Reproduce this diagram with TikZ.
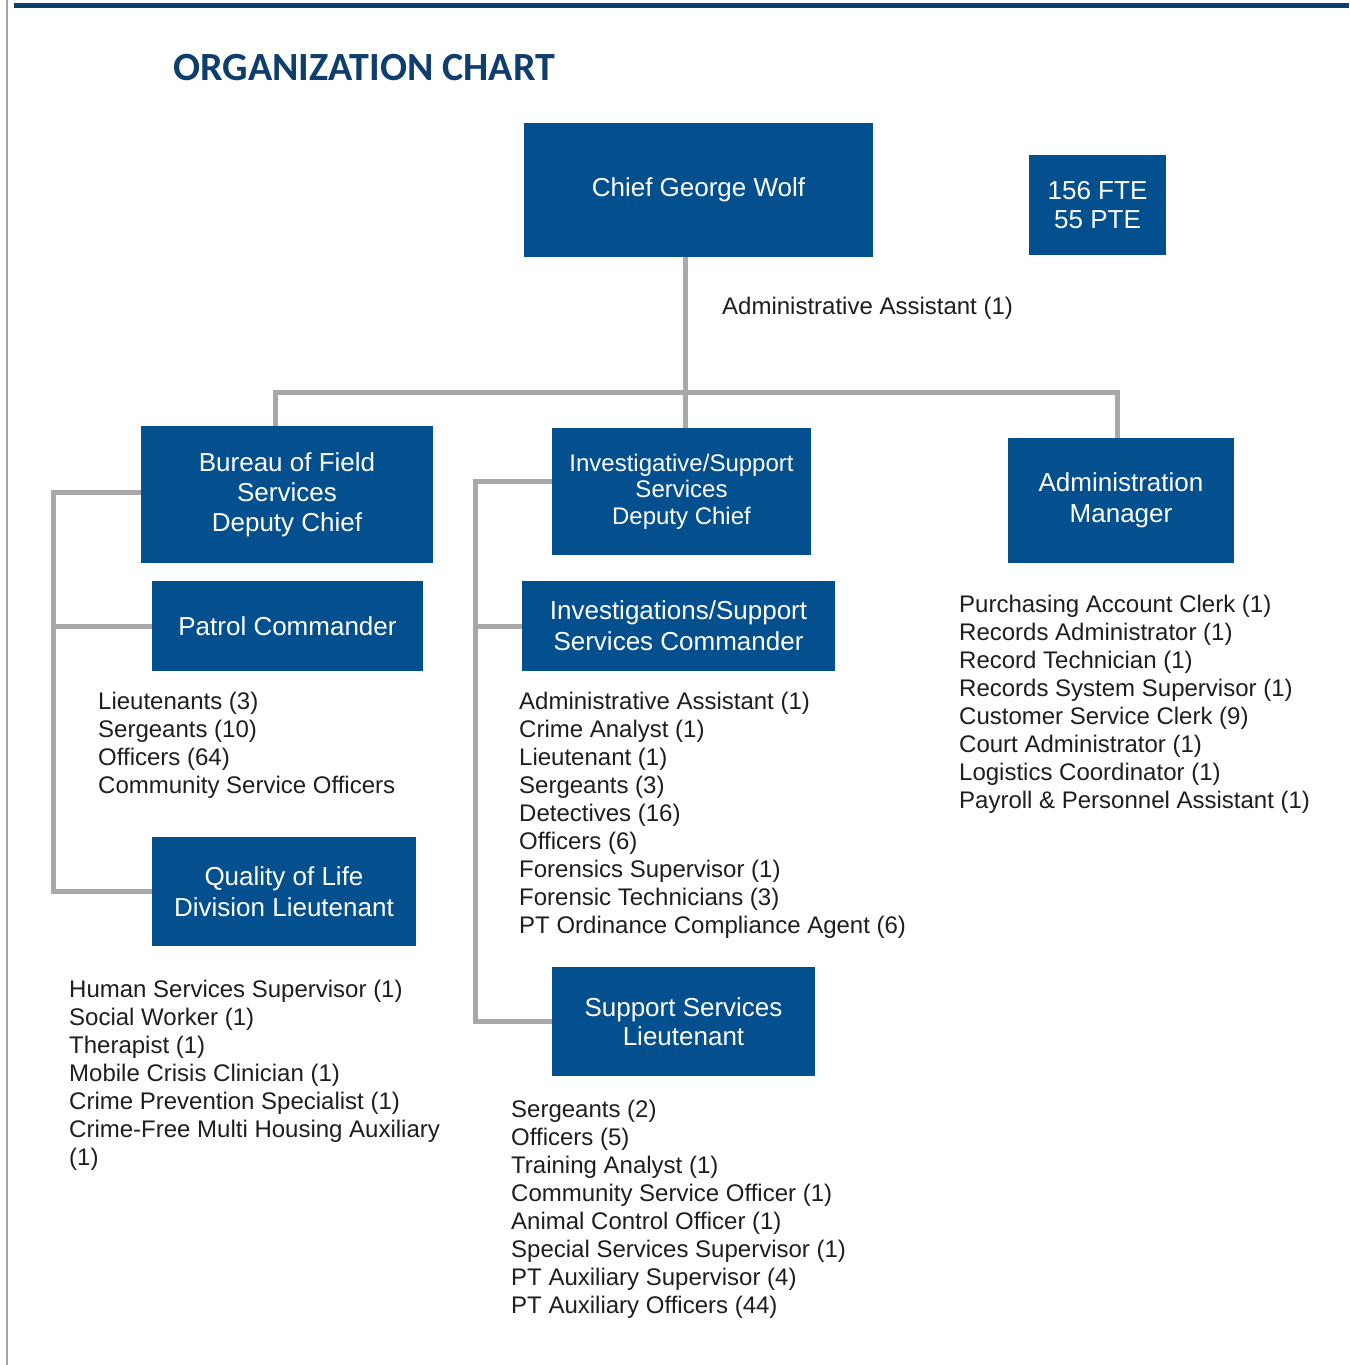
\documentclass[tikz,border=0pt]{standalone}
\usepackage{fontspec}
\setmainfont{Liberation Sans}
\newfontfamily\titlefont{Carlito}
\usepackage{tikz}

\definecolor{boxblue}{HTML}{04508F}
\definecolor{navy}{HTML}{0E3E6E}
\definecolor{linegray}{HTML}{A8A8A8}
\definecolor{inkgray}{HTML}{1E1E1E}

\begin{document}
\begin{tikzpicture}[x=1pt,y=-1pt,
  main node/.style={rectangle,fill=boxblue,text=white,inner sep=0pt,align=center,
    font=\fontsize{26}{30}\selectfont},
  list node/.style={anchor=north west,inner sep=0pt,align=left,text=inkgray,
    font=\fontsize{24}{28}\selectfont},
  conn/.style={draw=linegray,line width=5pt}]

  \useasboundingbox (0,0) rectangle (1349,1365);
  \fill[white] (0,0) rectangle (1349,1365);
  \draw[gray!70,line width=1.2pt] (7,0) -- (7,1365);
  \fill[navy] (14,3) rectangle (1349,8);

  \node[anchor=west,text=navy,font=\titlefont\bfseries\fontsize{40}{44}\selectfont] (title) at (170,68) {ORGANIZATION CHART};

  % boxes
  \node[main node,minimum width=349pt,minimum height=134pt] (chief) at (698.5,190) {Chief George Wolf};
  \node[main node,minimum width=137pt,minimum height=100pt,font=\fontsize{26}{29}\selectfont] (fte) at (1097.5,205) {156 FTE\\55 PTE};
  \node[main node,minimum width=292pt,minimum height=137pt] (bfs) at (287,494.5) {Bureau of Field\\Services\\Deputy Chief};
  \node[main node,minimum width=259pt,minimum height=127pt,font=\fontsize{24}{26.5}\selectfont] (isd) at (681.5,491.5) {Investigative/Support\\Services\\Deputy Chief};
  \node[main node,minimum width=226pt,minimum height=125pt,font=\fontsize{26}{31}\selectfont] (adm) at (1121,500.5) {Administration\\Manager};
  \node[main node,minimum width=271pt,minimum height=90pt] (pc) at (287.5,626) {Patrol Commander};
  \node[main node,minimum width=313pt,minimum height=90pt,font=\fontsize{26}{31}\selectfont] (isc) at (678.5,626) {Investigations/Support\\Services Commander};
  \node[main node,minimum width=264pt,minimum height=109pt,font=\fontsize{26}{31}\selectfont] (qol) at (284,891.5) {Quality of Life\\Division Lieutenant};
  \node[main node,minimum width=263pt,minimum height=109pt,font=\fontsize{26}{29}\selectfont] (ssl) at (683.5,1021.5) {Support Services\\Lieutenant};

  % staff lists
  \node[list node] (aa) at (722,297) {Administrative Assistant (1)};
  \node[list node] (pclist) at (98,692) {Lieutenants (3)\\Sergeants (10)\\Officers (64)\\Community Service Officers};
  \node[list node] (isclist) at (519,692) {Administrative Assistant (1)\\Crime Analyst (1)\\Lieutenant (1)\\Sergeants (3)\\Detectives (16)\\Officers (6)\\Forensics Supervisor (1)\\Forensic Technicians (3)\\PT Ordinance Compliance Agent (6)};
  \node[list node] (admlist) at (959,595) {Purchasing Account Clerk (1)\\Records Administrator (1)\\Record Technician (1)\\Records System Supervisor (1)\\Customer Service Clerk (9)\\Court Administrator (1)\\Logistics Coordinator (1)\\Payroll \& Personnel Assistant (1)};
  \node[list node] (qollist) at (69,980) {Human Services Supervisor (1)\\Social Worker (1)\\Therapist (1)\\Mobile Crisis Clinician (1)\\Crime Prevention Specialist (1)\\Crime-Free Multi Housing Auxiliary\\(1)};
  \node[list node] (ssllist) at (511,1100) {Sergeants (2)\\Officers (5)\\Training Analyst (1)\\Community Service Officer (1)\\Animal Control Officer (1)\\Special Services Supervisor (1)\\PT Auxiliary Supervisor (4)\\PT Auxiliary Officers (44)};

  % connectors
  \coordinate (hub) at (685,392);
  \coordinate (lbar) at (275,392);
  \coordinate (rbar) at (1117,392);
  \coordinate (lrail) at (53,492);
  \coordinate (mrail) at (475,481);

  \path[conn]
  (chief.south -| hub) -- (hub |- isd.north)
  (lbar |- bfs.north) -- (lbar) -- (rbar) -- (rbar |- adm.north)
  (bfs.west |- lrail) -- (lrail) -- (lrail |- qol.west) -- (qol.west)
  (lrail |- pc.west) -- (pc.west)
  (isd.west |- mrail) -- (mrail) -- (mrail |- ssl.west) -- (ssl.west)
  (mrail |- isc.west) -- (isc.west)
  ;

\end{tikzpicture}
\end{document}
